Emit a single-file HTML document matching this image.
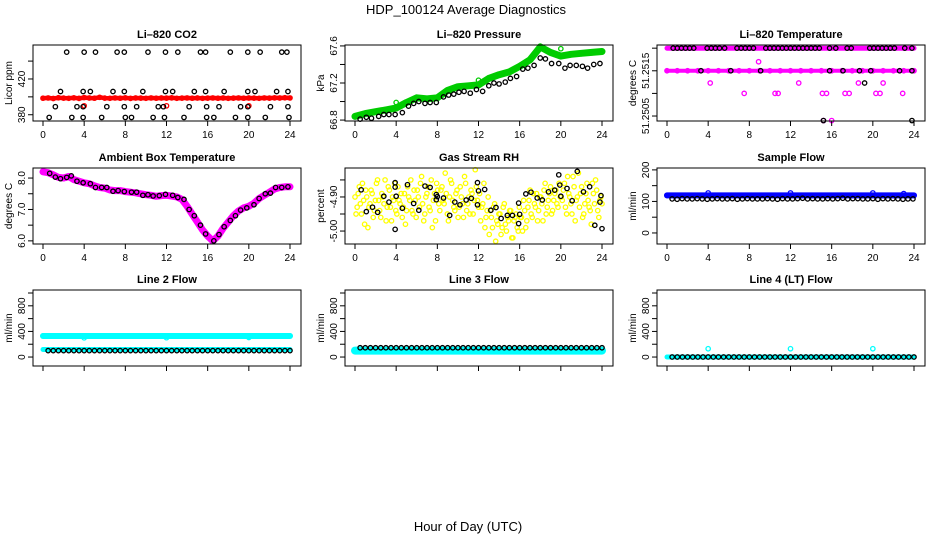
<!DOCTYPE html>
<html><head><meta charset="utf-8"><style>
html,body{margin:0;padding:0;background:#fff;}
svg{display:block;font-family:"Liberation Sans",sans-serif;}
</style></head><body>
<svg id="fig" width="936" height="540" viewBox="0 0 936 540">
<text x="466" y="14" font-size="13" text-anchor="middle">HDP_100124  Average Diagnostics</text>
<text x="468" y="531" font-size="13" text-anchor="middle">Hour of Day (UTC)</text>
</svg>
<script>
// ---------- data ----------
const xTicks = [0,4,8,12,16,20,24];
// CO2
const co2Red = [398.5,398.8,398.2,399.0,398.6,398.4,398.9,398.3,399.2,398.7,398.5,399.5,398.6,398.4,398.8,398.5,398.9,398.3,398.7,398.6,398.4,398.8,398.5,398.7,398.6,398.9,398.4,398.6,398.8,398.5,398.7,398.4,398.6,398.8,398.5,398.7,398.4,398.6,398.8,398.5,398.7,398.6,398.4,398.8,398.6,398.9,398.7,399.0,398.8];
const co2RedBlipHours = [4.0,12.0,20.0];
const co2RedBlipValues = [390,390,390];
const co2BlackHours = [2.3,4.0,5.1,7.2,7.9,10.2,11.9,13.1,15.3,15.8,18.2,19.9,21.1,23.2,23.7, 1.7,3.9,4.6,6.8,7.9,9.7,11.9,12.6,14.7,15.8,17.6,19.9,20.6,22.7,23.8, 1.2,3.3,3.9,6.2,7.9,9.1,11.2,11.7,14.2,15.9,17.1,19.2,19.9,22.1,23.8, 0.6,2.8,3.9,5.7,8.0,8.6,10.7,11.8,13.7,15.9,16.6,18.7,19.9,21.6,23.9];
const co2BlackValues = [450,450,450,450,450,450,450,450,450,450,450,450,450,450,450, 406,406,406,406,406,406,406,406,406,406,406,406,406,406,406, 389,389,389,389,389,389,389,389,389,389,389,389,389,389,389, 377,377,377,377,377,377,377,377,377,377,377,377,377,377,377];
// Pressure
const presGreen = [66.84,66.87,66.89,66.91,66.93,66.99,67.04,67.03,67.04,67.12,67.16,67.17,67.18,67.25,67.29,67.32,67.38,67.45,67.59,67.53,67.49,67.51,67.52,67.53,67.54];
const presBlackHours = [0.5,1.1,1.6,2.3,2.8,3.3,3.9,4.6,5.2,5.7,6.2,6.8,7.3,7.9,8.6,9.1,9.6,10.1,10.6,11.2,11.8,12.4,13.0,13.5,14.0,14.6,15.1,15.7,16.3,16.8,17.4,18.0,18.5,19.1,19.8,20.4,20.9,21.5,22.1,22.6,23.2,23.8];
const presBlackValues = [66.81,66.83,66.82,66.84,66.86,66.86,66.86,66.88,66.95,66.98,67.00,66.98,66.99,66.99,67.05,67.07,67.08,67.10,67.11,67.09,67.13,67.11,67.17,67.20,67.19,67.21,67.25,67.27,67.35,67.36,67.39,67.47,67.46,67.41,67.41,67.36,67.39,67.39,67.38,67.36,67.40,67.41];
// Li-820 Temperature
const tempTopBand = [51.2520,51.2520,51.2520,51.2520,51.2520,51.2520,51.2520,51.2520,51.2520,51.2520,51.2520,51.2520,51.2520,51.2520,51.2520,51.2520,51.2520,51.2520,51.2520,51.2520,51.2520,51.2520,51.2520,51.2520,51.2520];
const tempMidBand = [51.2515,51.2515,51.2515,51.2515,51.2515,51.2515,51.2515,51.2515,51.2515,51.2515,51.2515,51.2515,51.2515,51.2515,51.2515,51.2515,51.2515,51.2515,51.2515,51.2515,51.2515,51.2515,51.2515,51.2515,51.2515];
const tempMagHours = [8.9,4.2,12.8,18.6,21.0,7.5,10.5,10.8,15.1,15.5,17.3,17.7,20.3,20.7,22.9,16.0,15.2];
const tempMagValues = [51.2517,51.25123,51.25123,51.25123,51.25123,51.2510,51.2510,51.2510,51.2510,51.2510,51.2510,51.2510,51.2510,51.2510,51.2510,51.2504,51.2504];
const tempBlackHours = [0.6,1.0,1.4,1.8,2.2,2.6,3.9,4.3,4.7,5.1,5.6,6.8,7.2,7.6,8.0,8.4,9.6,10.0,10.4,10.8,11.2,11.6,12.0,12.4,12.8,13.2,13.6,14.0,14.4,14.8,15.8,16.4,17.5,17.9,19.7,20.1,20.5,20.9,21.3,21.7,22.1,23.1,23.8, 3.3,6.2,9.1,15.8,17.1,18.7,19.8,22.6,23.8, 19.2,15.2,23.8];
const tempBlackValues = [51.2520,51.2520,51.2520,51.2520,51.2520,51.2520,51.2520,51.2520,51.2520,51.2520,51.2520,51.2520,51.2520,51.2520,51.2520,51.2520,51.2520,51.2520,51.2520,51.2520,51.2520,51.2520,51.2520,51.2520,51.2520,51.2520,51.2520,51.2520,51.2520,51.2520,51.2520,51.2520,51.2520,51.2520,51.2520,51.2520,51.2520,51.2520,51.2520,51.2520,51.2520,51.2520,51.2520, 51.2515,51.2515,51.2515,51.2515,51.2515,51.2515,51.2515,51.2515,51.2515, 51.25123,51.2504,51.2504];
// Ambient box temperature
const ambMagenta = [8.20,8.17,8.10,8.02,8.00,8.05,7.95,7.90,7.85,7.82,7.75,7.70,7.68,7.62,7.60,7.60,7.57,7.55,7.53,7.50,7.47,7.45,7.42,7.44,7.45,7.43,7.40,7.32,7.10,6.85,6.60,6.35,6.15,6.00,6.15,6.40,6.60,6.80,6.95,7.05,7.10,7.20,7.35,7.45,7.55,7.65,7.70,7.72,7.72];
const ambBlackHours = [0.65,1.2,1.7,2.3,2.75,3.3,3.9,4.6,5.1,5.7,6.2,6.8,7.3,7.9,8.6,9.1,9.7,10.2,10.7,11.3,11.9,12.6,13.1,13.7,14.2,14.7,15.3,15.8,16.6,17.1,17.6,18.2,18.7,19.2,19.8,20.5,21.0,21.6,22.1,22.6,23.2,23.8];
const ambBlackValues = [8.15,8.03,7.98,8.02,8.07,7.90,7.85,7.82,7.70,7.70,7.70,7.58,7.60,7.57,7.55,7.55,7.45,7.47,7.43,7.44,7.48,7.45,7.38,7.32,7.00,6.80,6.50,6.22,6.00,6.20,6.45,6.65,6.80,6.98,7.05,7.15,7.35,7.50,7.52,7.70,7.70,7.72];
// Gas stream RH
const rhYellowA = [-4.90,-4.93,-4.87,-4.95,-4.91,-4.88,-4.99,-4.92,-4.89,-4.94,-4.86,-4.91,-4.96,-4.90,-4.85,-4.93,-4.88,-4.97,-4.91,-4.94,-4.87,
-4.92,-4.96,-4.89,-4.94,-4.90,-4.85,-4.95,-4.91,-4.88,-4.93,-4.84,-4.97,-4.90,-4.87,-4.94,-4.99,-4.89,-4.86,-4.92,
-4.88,-4.91,-4.83,-4.95,-4.90,-4.86,-4.93,-4.89,-4.96,-4.87,-4.92,-4.84,-4.94,-4.90,-4.88,-4.95,-4.82,-4.91,-4.89,
-4.93,-4.86,-4.96,-4.90,-4.94,-4.99,-4.92,-4.97,-4.95,-5.01,-4.93,-4.98,-4.96,-4.94,-5.02,-4.97,-4.95,-5.00,-4.96,
-5.00,-4.94,-4.97,-4.91,-4.95,-4.89,-4.93,-4.97,-4.90,-4.92,-4.88,-4.95,-4.91,-4.87,-4.94,-4.89,-4.92,-4.86,-4.90,
-4.88,-4.93,-4.84,-4.90,-4.95,-4.87,-4.91,-4.83,-4.89,-4.96,-4.92,-4.86,-4.93,-4.98,-4.89,-4.85,-4.94,-4.91,-4.92];
const rhYellowB = [-4.95,-4.89,-4.92,-4.86,-4.98,-4.90,-4.93,-4.88,-4.96,-4.91,-4.85,-4.94,-4.89,-4.92,-4.97,-4.87,-4.93,-4.90,-4.86,-4.95,-4.91,
-4.89,-4.93,-4.98,-4.87,-4.91,-4.94,-4.88,-4.96,-4.90,-4.86,-4.92,-4.95,-4.89,-4.93,-4.85,-4.91,-4.97,-4.88,
-4.94,-4.87,-4.92,-4.89,-4.97,-4.85,-4.91,-4.94,-4.88,-4.93,-4.90,-4.96,-4.86,-4.92,-4.95,-4.89,-4.91,-4.87,-4.93,
-4.97,-4.92,-4.99,-4.94,-5.01,-4.96,-4.93,-5.03,-4.98,-4.95,-4.99,-4.92,-5.00,-4.97,-4.94,-5.02,-4.96,-4.99,-4.93,
-4.96,-4.91,-4.99,-4.93,-4.88,-4.96,-4.92,-4.89,-4.94,-4.90,-4.97,-4.86,-4.93,-4.89,-4.95,-4.91,-4.88,-4.93,-4.90,
-4.91,-4.86,-4.95,-4.89,-4.92,-4.84,-4.97,-4.90,-4.93,-4.87,-4.95,-4.89,-4.91,-4.94,-4.86,-4.92,-4.88,-4.96,-4.90];
const rhBlackHours = [0.6,1.1,1.7,2.2,2.8,3.3,3.9,3.9,3.9,4.0,4.6,5.1,5.7,6.2,6.8,7.3,7.9,8.0,7.9,8.6,9.2,9.7,10.2,10.8,11.3,11.9,11.9,12.0,12.6,13.2,13.7,14.2,14.8,15.3,15.9,15.9,16.0,16.6,17.1,17.7,18.2,18.8,19.4,19.8,19.9,20.0,20.6,21.1,21.6,22.2,22.8,23.3,23.9,23.8,24.0];
const rhBlackValues = [-4.879,-4.943,-4.930,-4.945,-4.898,-4.915,-4.995,-4.858,-4.871,-4.898,-4.933,-4.864,-4.919,-4.939,-4.868,-4.872,-4.893,-4.899,-4.908,-4.903,-4.954,-4.915,-4.923,-4.909,-4.904,-4.858,-4.923,-4.882,-4.878,-4.939,-4.931,-4.963,-4.954,-4.954,-4.918,-4.978,-4.951,-4.891,-4.886,-4.903,-4.909,-4.885,-4.880,-4.835,-4.865,-4.898,-4.875,-4.911,-4.825,-4.885,-4.870,-4.983,-4.896,-4.915,-4.993];
// Sample flow
const sampleBlue = [119,119,119,119,127,119,119,119,119,119,119,119,127,119,119,119,119,119,119,119,127,119,119,125,119];
const sampleBlack = [108,107,109,108,108,109,108,107,108,109,108,108,109,107,108,109,108,108,108,109,108,107,109,108,108,109,110,108,109,108,108,109,108,109,110,108,109,109,108,108,109,107,109,108,109,108,107,108,108];
// Line 2 flow
const line2CyanHigh = [330,330,328,330,300,328,330,328,330,330,328,330,302,328,330,329,330,328,330,330,305,328,330,329,330];
const line2CyanLow = [118,118,118,118,118,118,118,118,118,118,118,118,118,118,118,118,118,118,118,118,118,118,118,118,118];
const line2Black = [100,100,100,100,100,100,100,100,100,100,100,100,100,100,100,100,100,100,100,100,100,100,100,100,100,100,100,100,100,100,100,100,100,100,100,100,100,100,100,100,100,100,100,100,100,100,100,100];
// Line 3 flow
const line3Cyan = [100,100,100,100,100,100,100,100,100,100,100,100,100,100,100,100,100,100,100,100,100,100,100,100,100];
const line3Black = [145,145,145,145,145,145,145,145,145,145,145,145,145,145,145,145,145,145,145,145,145,145,145,145,145,145,145,145,145,145,145,145,145,145,145,145,145,145,145,145,145,145,145,145,145,145,145,145];
// Line 4 flow
const line4Cyan = [0,0,0,0,0,0,0,0,0,0,0,0,0,0,0,0,0,0,0,0,0,0,0,0,0];
const line4BlipHours = [4,12,20];
const line4BlipValues = [130,130,130];
const line4Black = [0,0,0,0,0,0,0,0,0,0,0,0,0,0,0,0,0,0,0,0,0,0,0,0,0,0,0,0,0,0,0,0,0,0,0,0,0,0,0,0,0,0,0,0,0,0,0,0];

// ---------- drawing ----------
const NS = "http://www.w3.org/2000/svg";
const fig = document.getElementById('fig');
const colX0 = [43,355,667], colW = 247;
const rowTop = [45,168,290], boxH = 76;
function mk(tag, attrs, parent){ const e=document.createElementNS(NS,tag); for(const k in attrs) e.setAttribute(k,attrs[k]); (parent||fig).appendChild(e); return e; }
function spread(arr, start, end){ return arr.map((v,i)=> start + i*(end-start)/(arr.length-1)); }

function makePanel(col,row,o){
  const g = mk('g',{});
  
  
  const x0 = colX0[col], x1 = x0+colW, bl = x0-10, br = x1+11, bt = rowTop[row], bb = bt+boxH;
  const sx = h => x0 + h/24*colW;
  const sy = v => bb - (v - o.ylim[0])/(o.ylim[1]-o.ylim[0])*boxH;
  const plot = mk('g',{}, g);
  
  
  const box = mk('rect',{x:bl,y:bt,width:br-bl,height:boxH,fill:'none',stroke:'#000','stroke-width':1}, g);
  
  
  const t = mk('text',{x:(bl+br)/2,y:bt-7,'font-size':11,'font-weight':'bold','text-anchor':'middle'}, g);
  t.textContent = o.title;
  
  
  // x axis
  xTicks.forEach(h=>{
    mk('line',{x1:sx(h),x2:sx(h),y1:bb,y2:bb+5,stroke:'#000'}, g);
    if(o.xlabels){
      const tl = mk('text',{x:sx(h),y:bb+17,'font-size':10,'text-anchor':'middle'}, g);
      tl.textContent = h;
      
      
    }
  });
  // y axis
  o.yticks.forEach(v=>{
    mk('line',{x1:bl,x2:bl-5,y1:sy(v),y2:sy(v),stroke:'#000'}, g);
  });
  o.ylabels.forEach(v=>{
    const y = sy(parseFloat(v));
    const tl = mk('text',{x:bl-8,y:y,'font-size':10,'text-anchor':'middle',transform:`rotate(-90 ${bl-8} ${y})`}, g);
    tl.textContent = v;
    
    
  });
  const yt = mk('text',{x:bl-21,y:(bt+bb)/2,'font-size':10,'text-anchor':'middle',transform:`rotate(-90 ${bl-21} ${(bt+bb)/2})`}, g);
  yt.textContent = o.ylab;
  
  
  return {sx, sy, plot};
}
function band(p, hours, vals, color, w){
  const pts = hours.map((h,i)=> p.sx(h).toFixed(1)+','+p.sy(vals[i]).toFixed(1)).join(' ');
  const l = mk('polyline',{points:pts,fill:'none',stroke:color,'stroke-width':w,'stroke-linejoin':'round','stroke-linecap':'round'}, p.plot);
  
  
}
function pts(p, hours, vals, color, r){
  hours.forEach((h,i)=>{
    const c = mk('circle',{cx:p.sx(h),cy:p.sy(vals[i]),r:r||2.2,fill:'none',stroke:color,'stroke-width':1.3}, p.plot);
    
    
  });
}

// Panel 1: CO2
let p = makePanel(0,0,{name:'co2-panel',title:'Li\u2013820 CO2',ylab:'Licor ppm',ylim:[373,458],yticks:[380,400,420,440],ylabels:['380','420'],xlabels:true});
let hh = spread(co2Red,0,24);
band(p, hh, co2Red, '#ff0000', 4.5); pts(p, hh, co2Red, '#ff0000');
pts(p, co2RedBlipHours, co2RedBlipValues, '#ff0000');
pts(p, co2BlackHours, co2BlackValues, '#000');

// Panel 2: Pressure
p = makePanel(1,0,{name:'pressure-panel',title:'Li\u2013820 Pressure',ylab:'kPa',ylim:[66.79,67.61],yticks:[66.8,67.0,67.2,67.4,67.6],ylabels:['66.8','67.2','67.6'],xlabels:true});
hh = spread(presGreen,0,24);
band(p, hh, presGreen, '#00cc00', 7); pts(p, hh, presGreen, '#00cc00', 2.6);
pts(p, [4.0,12.0,20.0], [66.99,67.23,67.57], '#00cc00');
pts(p, presBlackHours, presBlackValues, '#000');

// Panel 3: Temperature
p = makePanel(2,0,{name:'temperature-panel',title:'Li\u2013820 Temperature',ylab:'degrees C',ylim:[51.25039,51.25207],yticks:[51.2505,51.2510,51.2515,51.2520],ylabels:['51.2505','51.2515'],xlabels:true});
hh = spread(tempTopBand,0,24);
band(p, hh, tempTopBand, '#ff00ff', 5); band(p, hh, tempMidBand, '#ff00ff', 4);
pts(p, hh, tempMidBand, '#ff00ff');
pts(p, tempMagHours, tempMagValues, '#ff00ff');
pts(p, tempBlackHours, tempBlackValues, '#000');

// Panel 4: Ambient
p = makePanel(0,1,{name:'ambient-temp-panel',title:'Ambient Box Temperature',ylab:'degrees C',ylim:[5.90,8.32],yticks:[6.0,6.5,7.0,7.5,8.0],ylabels:['6.0','7.0','8.0'],xlabels:true});
hh = spread(ambMagenta,0,24);
band(p, hh, ambMagenta, '#ff00ff', 7); pts(p, hh, ambMagenta, '#ff00ff', 2.6);
pts(p, ambBlackHours, ambBlackValues, '#000');

// Panel 5: RH
p = makePanel(1,1,{name:'rh-panel',title:'Gas Stream RH',ylab:'percent',ylim:[-5.038,-4.815],yticks:[-5.00,-4.95,-4.90,-4.85],ylabels:['-5.00','-4.90'],xlabels:true});
pts(p, spread(rhYellowA,0,24), rhYellowA, '#ffff00');
pts(p, spread(rhYellowB,0.1,23.9), rhYellowB, '#ffff00');
pts(p, rhBlackHours, rhBlackValues, '#000');

// Panel 6: Sample flow
p = makePanel(2,1,{name:'sample-flow-panel',title:'Sample Flow',ylab:'ml/min',ylim:[-35,206],yticks:[0,50,100,150,200],ylabels:['0','100','200'],xlabels:true});
hh = spread(sampleBlue,0,24);
band(p, hh, sampleBlue.map(()=>119), '#0000ff', 6); pts(p, hh, sampleBlue, '#0000ff');
pts(p, spread(sampleBlack,0.5,23.9), sampleBlack, '#000');

// Panel 7: Line 2
p = makePanel(0,2,{name:'line2-flow-panel',title:'Line 2 Flow',ylab:'ml/min',ylim:[-140,1047],yticks:[0,200,400,600,800,1000],ylabels:['0','400','800'],xlabels:false});
hh = spread(line2CyanHigh,0,24);
band(p, hh, line2CyanHigh.map(()=>328), '#00ffff', 6); pts(p, hh, line2CyanHigh, '#00ffff');
band(p, hh, line2CyanLow, '#00ffff', 5);
pts(p, spread(line2Black,0.5,24), line2Black, '#000');

// Panel 8: Line 3
p = makePanel(1,2,{name:'line3-flow-panel',title:'Line 3 Flow',ylab:'ml/min',ylim:[-140,1047],yticks:[0,200,400,600,800,1000],ylabels:['0','400','800'],xlabels:false});
hh = spread(line3Cyan,0,24);
band(p, hh, line3Cyan, '#00ffff', 8);
pts(p, spread(line3Black,0.5,24), line3Black, '#000');

// Panel 9: Line 4
p = makePanel(2,2,{name:'line4-flow-panel',title:'Line 4 (LT) Flow',ylab:'ml/min',ylim:[-140,1047],yticks:[0,200,400,600,800,1000],ylabels:['0','400','800'],xlabels:false});
hh = spread(line4Cyan,0,24);
band(p, hh, line4Cyan, '#00ffff', 5);
pts(p, line4BlipHours, line4BlipValues, '#00ffff');
pts(p, spread(line4Black,0.5,24), line4Black, '#000');
</script>
</body></html>
